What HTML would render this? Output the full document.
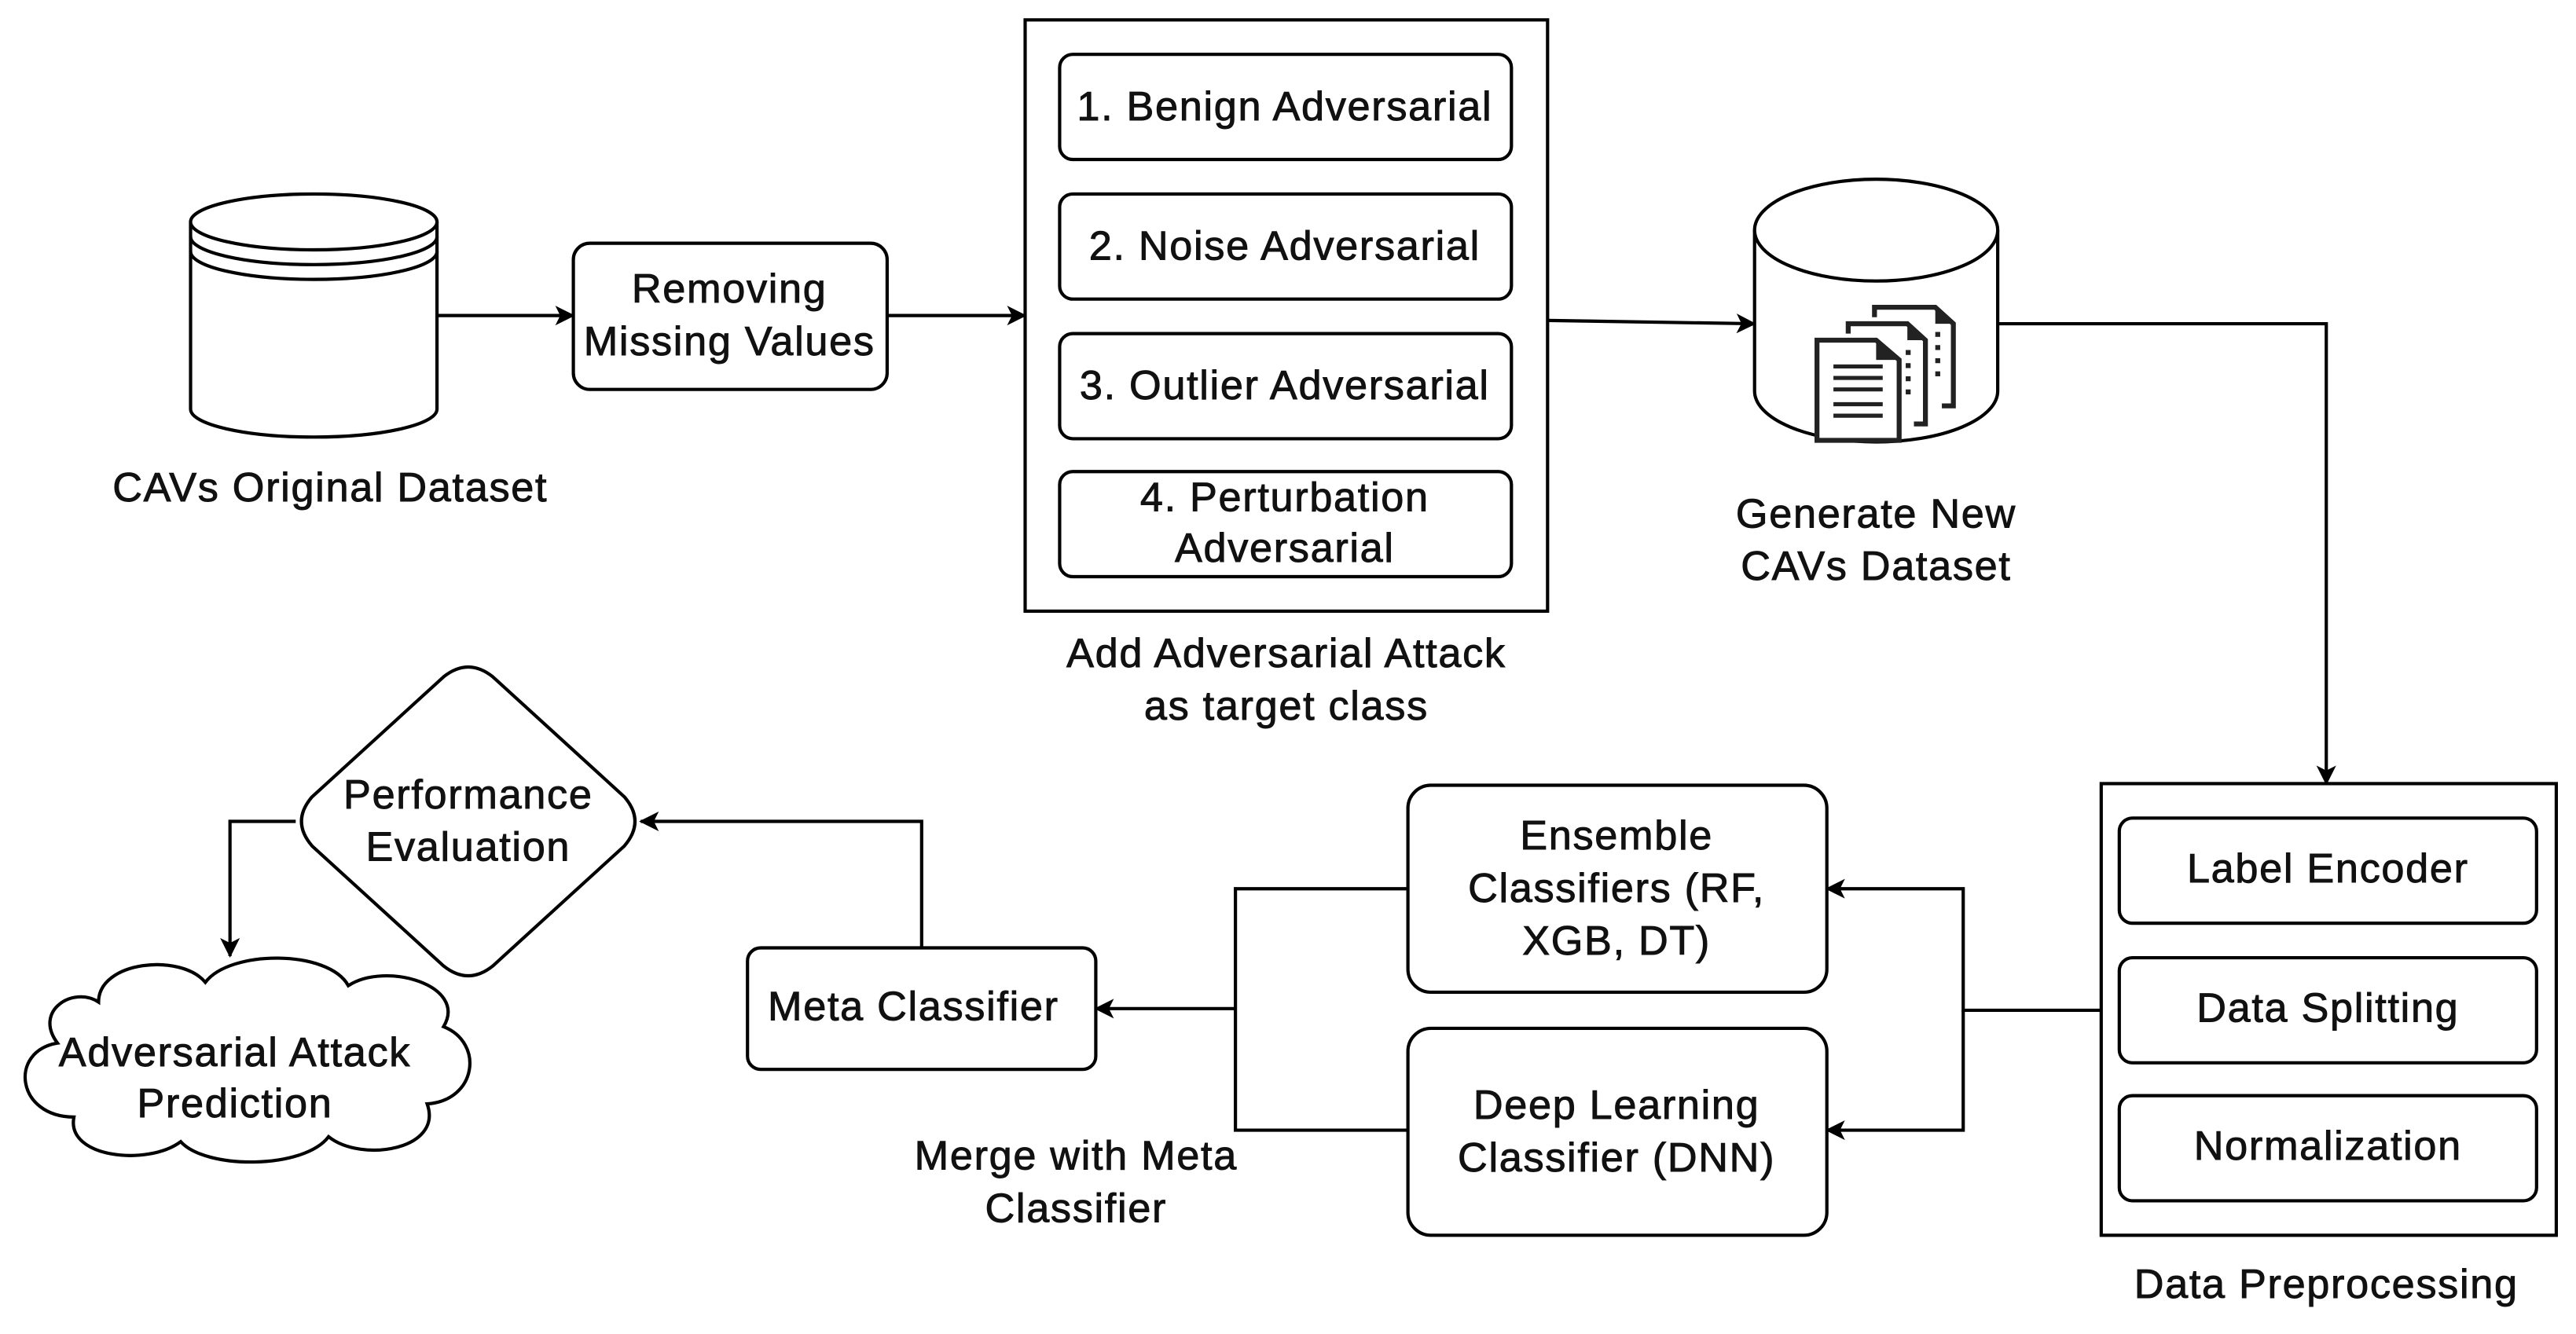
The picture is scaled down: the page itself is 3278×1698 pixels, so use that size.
<!DOCTYPE html>
<html><head><meta charset="utf-8"><style>
html,body{margin:0;padding:0;background:#fff;}
svg{display:block;}
text{font-family:"Liberation Sans",Arial,sans-serif;font-size:25px;letter-spacing:0.8px;fill:#111;text-anchor:middle;stroke:#111;stroke-width:0.45px;}
</style></head><body>
<svg width="3278" height="1698" viewBox="0 0 1568 812" xmlns="http://www.w3.org/2000/svg">
<defs>
<marker id="a2" viewBox="0 0 12 12" refX="11" refY="6" markerWidth="12" markerHeight="12" orient="auto" markerUnits="userSpaceOnUse">
<path d="M0,0 L12,6 L0,12 L3,6 Z" fill="#000"/></marker>
</defs>
<g fill="none" stroke="#000" stroke-width="2">
<path d="M116,135 L116,249 A75,17 0 0 0 266,249 L266,135" fill="#fff"/>
<ellipse cx="191" cy="135" rx="75" ry="17" fill="#fff"/>
<path d="M116,144 A75,17 0 0 0 266,144"/>
<path d="M116,153 A75,17 0 0 0 266,153"/>
<path d="M1068,140 L1068,238 A74,31 0 0 0 1216,238 L1216,140" fill="#fff"/>
<ellipse cx="1142" cy="140" rx="74" ry="31" fill="#fff"/>
<rect x="349" y="148" width="191" height="89" rx="10"/>
<rect x="624" y="12" width="318" height="360"/>
<rect x="645" y="33" width="275" height="64" rx="8"/>
<rect x="645" y="118" width="275" height="64" rx="8"/>
<rect x="645" y="203" width="275" height="64" rx="8"/>
<rect x="645" y="287" width="275" height="64" rx="8"/>
<rect x="1279" y="477" width="277" height="275"/>
<rect x="1290" y="498" width="254" height="64" rx="8"/>
<rect x="1290" y="583" width="254" height="64" rx="8"/>
<rect x="1290" y="667" width="254" height="64" rx="8"/>
<rect x="857" y="478" width="255" height="126" rx="14"/>
<rect x="857" y="626" width="255" height="126" rx="14"/>
<rect x="455" y="577" width="212" height="74" rx="8"/>
<path d="M270,412 Q285,400 300,412 L380,485 Q393,500 380,515 L300,588 Q285,600 270,588 L190,515 Q177,500 190,485 Z"/>
<path d="M60,610 C60,585 110,580 125,598 C140,578 200,578 212,600 C235,585 285,600 270,625 C295,635 290,670 260,672 C270,700 220,708 200,692 C185,712 125,712 110,695 C90,710 40,705 45,680 C10,680 5,640 35,635 C20,615 45,600 60,610 Z"/>
<path d="M266,192 L349,192" marker-end="url(#a2)"/>
<path d="M540,192 L624,192" marker-end="url(#a2)"/>
<path d="M942,195 L1068,197" marker-end="url(#a2)"/>
<path d="M1216,197 L1416,197 L1416,477" marker-end="url(#a2)"/>
<path d="M1279,615 L1195,615 L1195,541 L1112,541" marker-end="url(#a2)"/>
<path d="M1195,615 L1195,688 L1112,688" marker-end="url(#a2)"/>
<path d="M857,541 L752,541 L752,688 L857,688"/>
<path d="M752,614 L667,614" marker-end="url(#a2)"/>
<path d="M561,577 L561,500 L390,500" marker-end="url(#a2)"/>
<path d="M180,500 L140,500 L140,582" marker-end="url(#a2)"/>
</g>
<g stroke="#222" stroke-width="3" fill="none">
<path d="M1141,193 L1141,187 L1178,187 L1189,197 L1189,247 L1182,247"/>
<path d="M1125,203 L1125,197 L1161,197 L1172,207 L1172,258 L1165,258"/>
<path d="M1106,207 L1142,207 L1156,219 L1156,268 L1106,268 Z" fill="#fff"/>
</g>
<g fill="#222">
<path d="M1142,207 L1156,219 L1142,219 Z"/>
<path d="M1161,197 L1172,207 L1161,207 Z"/>
<path d="M1178,187 L1189,197 L1178,197 Z"/>
<rect x="1160" y="213" width="3" height="3"/><rect x="1160" y="221" width="3" height="3"/><rect x="1160" y="229" width="3" height="3"/><rect x="1160" y="237" width="3" height="3"/>
<rect x="1178" y="202" width="3" height="3"/><rect x="1178" y="210" width="3" height="3"/><rect x="1178" y="218" width="3" height="3"/><rect x="1178" y="226" width="3" height="3"/>
</g>
<g stroke="#222" stroke-width="2.5">
<line x1="1116" y1="223" x2="1146" y2="223"/><line x1="1116" y1="230" x2="1146" y2="230"/><line x1="1116" y1="237" x2="1146" y2="237"/><line x1="1116" y1="246" x2="1146" y2="246"/><line x1="1116" y1="253" x2="1146" y2="253"/>
</g>
<text x="201" y="305">CAVs Original Dataset</text>
<text x="444" y="184">Removing</text>
<text x="444" y="216">Missing Values</text>
<text x="782" y="73">1. Benign Adversarial</text>
<text x="782" y="158">2. Noise Adversarial</text>
<text x="782" y="243">3. Outlier Adversarial</text>
<text x="782" y="311">4. Perturbation</text>
<text x="782" y="342">Adversarial</text>
<text x="783" y="406">Add Adversarial Attack</text>
<text x="783" y="438">as target class</text>
<text x="1142" y="321">Generate New</text>
<text x="1142" y="353">CAVs Dataset</text>
<text x="1417" y="537">Label Encoder</text>
<text x="1417" y="622">Data Splitting</text>
<text x="1417" y="706">Normalization</text>
<text x="1416" y="790">Data Preprocessing</text>
<text x="984" y="517">Ensemble</text>
<text x="984" y="549">Classifiers (RF,</text>
<text x="984" y="581">XGB, DT)</text>
<text x="984" y="681">Deep Learning</text>
<text x="984" y="713">Classifier (DNN)</text>
<text x="556" y="621">Meta Classifier</text>
<text x="655" y="712">Merge with Meta</text>
<text x="655" y="744">Classifier</text>
<text x="285" y="492">Performance</text>
<text x="285" y="524">Evaluation</text>
<text x="143" y="649">Adversarial Attack</text>
<text x="143" y="680">Prediction</text>
</svg>
</body></html>
